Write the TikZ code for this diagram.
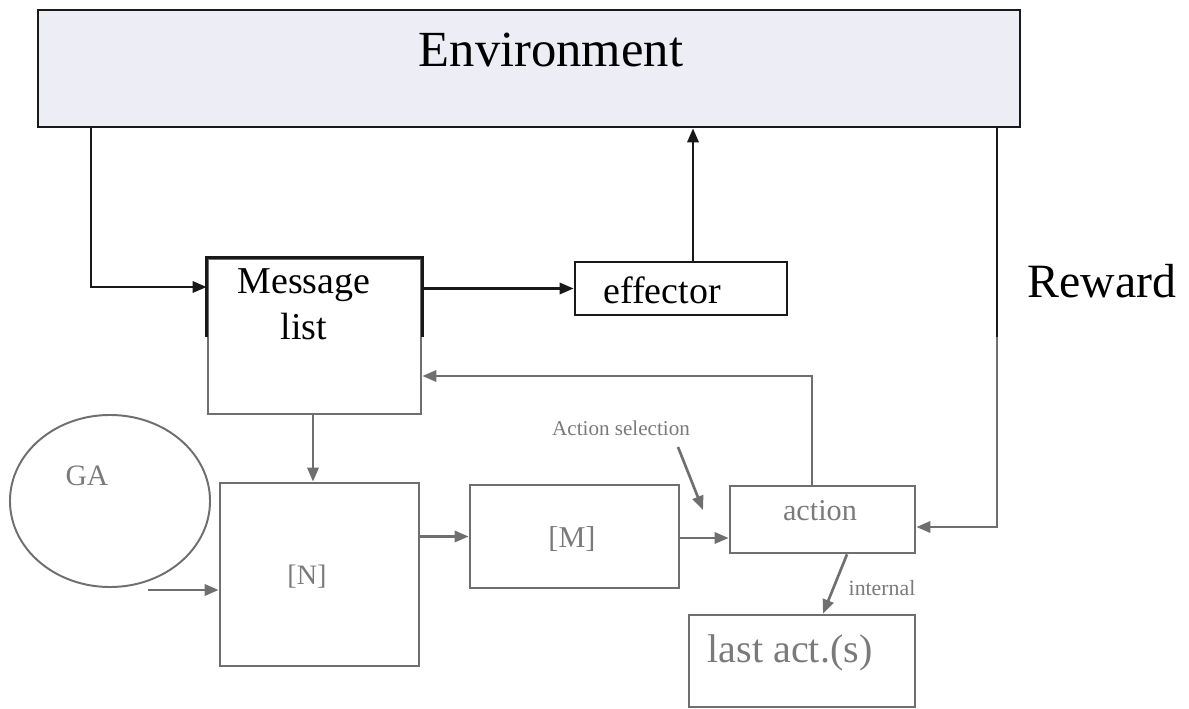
\documentclass[tikz,border=0pt]{standalone}
\usepackage{fontspec}
\setmainfont{Liberation Serif}
\usepackage{tikz}
\usetikzlibrary{arrows.meta,calc,shapes.geometric}
\definecolor{envfill}{HTML}{EDEDF5}
\definecolor{lowgray}{HTML}{6F6F6F}
\definecolor{txtgray}{HTML}{7A7A7A}
\newcommand{\fsz}[1]{\fontsize{#1}{#1}\selectfont}

\begin{document}
\begin{tikzpicture}[x=0.025cm,y=-0.025cm,
  box/.style={draw=lowgray,line width=1.9pt,inner sep=0pt},
  topbox/.style={draw=black!90,line width=1.9pt,inner sep=0pt},
  blk/.style={draw=black!90,line width=1.9pt},
  gry/.style={draw=lowgray,line width=1.9pt},
  tip/.style={-{Triangle[length=10pt,width=8pt]}},
  lbl/.style={inner sep=0pt,anchor=base,text=txtgray}]
\useasboundingbox (0,0) rectangle (1189,709);

\node[topbox,fill=envfill,minimum width=24.55cm,minimum height=2.925cm] (env) at (529,68.5) {};
\node[inner sep=0pt,anchor=base,font=\fsz{36}] (envtxt) at (551,67) {Environment};
\node[box,minimum width=5.325cm,minimum height=3.875cm] (msg) at (314.5,336.5) {};
\draw[blk] (msg.west) |- (msg.north east) -- (msg.east);
\node[inner sep=0pt,anchor=north,align=center,font={\fontsize{27}{33}\selectfont}] (msgtxt) at (304,268) {Message\\list};
\node[topbox,minimum width=5.3cm,minimum height=1.325cm] (eff) at (681,288.5) {};
\node[inner sep=0pt,anchor=base,font=\fsz{27}] (efftxt) at (662,303) {effector};
\node[inner sep=0pt,anchor=base,font=\fsz{34}] (rew) at (1102,297) {Reward};

\node[box,ellipse,line width=1.4pt,minimum width=5cm,minimum height=4.3cm] (ga) at (110,501) {};
\node[lbl,font=\fsz{21}] (gatxt) at (87,485) {GA};
\node[box,minimum width=4.975cm,minimum height=4.575cm] (N) at (319.5,574.5) {};
\node[lbl,font=\fsz{20}] (Ntxt) at (307,584) {[N]};
\node[box,minimum width=5.225cm,minimum height=2.575cm] (M) at (574.5,536.5) {};
\node[lbl,font=\fsz{21.5}] (Mtxt) at (572,547) {[M]};
\node[box,minimum width=4.625cm,minimum height=1.675cm] (act) at (822.5,519.5) {};
\node[lbl,font=\fsz{21.5}] (acttxt) at (820,520) {action};
\node[box,minimum width=5.65cm,minimum height=2.3cm] (last) at (802,661) {};
\node[lbl,font=\fsz{28.5}] (lasttxt) at (790,662) {last act.(s)};
\node[lbl,font=\fsz{15}] (seltxt) at (621,435) {Action selection};
\node[lbl,font=\fsz{15.5}] (inttxt) at (882,595) {internal};

\coordinate (inL) at (91,287);
\coordinate (up) at (693,0);
\coordinate (rw) at (997,527);
\coordinate (fb) at (812,376);
\coordinate (dn) at (313,0);
\coordinate (ga0) at (148,590);
\coordinate (ma) at (0,538);
\coordinate (sel0) at (678,447);
\coordinate (sel1) at (703,510);
\coordinate (i0) at (847,0);
\coordinate (i1) at (823,0);

\draw[blk,tip] (env.south -| inL) |- (msg.west |- inL);
\draw[blk,tip] (msg.east |- eff.west) -- (eff.west);
\draw[blk,tip] (eff.north -| up) -- (env.south -| up);
\draw[gry,tip] (env.south -| rw) |- (act.east |- rw);
\draw[blk] (env.south -| rw) -- (rw |- msg.east);
\draw[gry,tip] (act.north -| fb) |- (msg.east |- fb);
\draw[gry,tip] (msg.south -| dn) -- (N.north -| dn);
\draw[gry,tip] (ga0) -- (N.west |- ga0);
\draw[gry,tip] (N.east |- M.west) -- (M.west);
\draw[gry,tip] (M.east |- ma) -- (act.west |- ma);
\draw[gry,tip] (sel0) -- (sel1);
\draw[gry,tip] (act.south -| i0) -- (last.north -| i1);
\end{tikzpicture}
\end{document}
